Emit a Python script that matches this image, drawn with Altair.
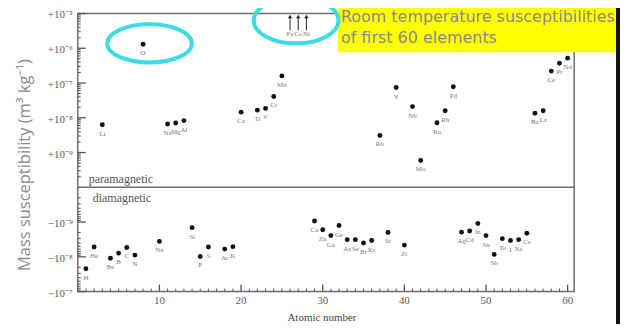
import math
import altair as alt
import pandas as pd

# ---------------- data ----------------
para_sym = ["Li", "O", "Na", "Mg", "Al", "Ca", "Ti", "V", "Cr", "Mn", "Rb", "Y", "Nb", "Mo",
            "Ru", "Rh", "Pd", "Ba", "La", "Ce", "Pr", "Nd"]
para_z = [3, 8, 11, 12, 13, 20, 22, 23, 24, 25, 37, 39, 41, 42, 44, 45, 46, 56, 57, 58, 59, 60]
para_chi = [6.3e-9, 1.3e-6, 6.6e-9, 7.1e-9, 8.3e-9, 1.45e-8, 1.66e-8, 1.86e-8, 4.1e-8, 1.6e-7,
            3.1e-9, 7.4e-8, 2.1e-8, 5.9e-10, 7.2e-9, 1.6e-8, 7.8e-8, 1.35e-8, 1.6e-8, 2.2e-7,
            3.7e-7, 5.2e-7]

dia_sym = ["H", "He", "Be", "B", "C", "N", "Ne", "Si", "P", "S", "Ar", "K", "Cu", "Zn", "Ga",
           "Ge", "As", "Se", "Br", "Kr", "Sr", "Zr", "Ag", "Cd", "In", "Sn", "Sb", "Te", "I",
           "Xe", "Cs"]
dia_z = [1, 2, 4, 5, 6, 7, 10, 14, 15, 16, 18, 19, 29, 30, 31, 32, 33, 34, 35, 36, 38, 40, 47,
         48, 49, 50, 51, 52, 53, 54, 55]
dia_chi = [-2.2e-8, -5.2e-9, -1.1e-8, -7.8e-9, -5.4e-9, -8.9e-9, -3.6e-9, -1.45e-9, -9.8e-9,
           -5.2e-9, -6.0e-9, -5.1e-9, -9.3e-10, -1.66e-9, -2.45e-9, -1.26e-9, -3.2e-9, -3.2e-9,
           -4.0e-9, -3.4e-9, -2.0e-9, -4.6e-9, -1.95e-9, -1.8e-9, -1.1e-9, -2.45e-9, -8.5e-9,
           -3.0e-9, -3.4e-9, -3.2e-9, -2.1e-9]

ferro_sym = ["Fe", "Co", "Ni"]
ferro_z = [26, 27, 28]

x_ticks = [10, 20, 30, 40, 50, 60]
y_tick_pos = [-3, -2, -1, 1, 2, 3, 4, 5]
y_tick_labels = ["\u221210\u207b\u2077", "\u221210\u207b\u2078", "\u221210\u207b\u2079",
                 "+10\u207b\u2079", "+10\u207b\u2078", "+10\u207b\u2077", "+10\u207b\u2076",
                 "+10\u207b\u2075"]

title_lines = ["Room temperature susceptibilities", "of first 60 elements"]
x_title = "Atomic number"
y_title = "Mass susceptibility (m\u00b3 kg\u207b\u00b9)"

# ---------------- tables ----------------
pts = pd.DataFrame({
    "z": para_z + dia_z,
    "sym": para_sym + dia_sym,
    "chi": para_chi + dia_chi,
})
ferro = pd.DataFrame({"z": ferro_z, "sym": ferro_sym})

minor_y = []
for n in range(0, 5):
    for k in range(2, 10):
        minor_y.append(n + math.log10(k))
for n in range(0, 3):
    for k in range(2, 10):
        minor_y.append(-(n + math.log10(k)))
minor_y_df = pd.DataFrame({"p": minor_y})
major_y_df = pd.DataFrame({"p": y_tick_pos, "lab": y_tick_labels})
minor_x_df = pd.DataFrame({"z": [v for v in range(1, 61) if v % 10 != 0]})
major_x_df = pd.DataFrame({"z": x_ticks, "lab": [str(v) for v in x_ticks]})

W, H = 498, 279
SERIF = "Liberation Serif"
GRAY = "#5a5a5a"

xs = alt.Scale(domain=[0, 60.8], nice=False, zero=False)
ys = alt.Scale(domain=[-3, 5], nice=False, zero=False)

X = alt.X("z:Q", scale=xs, axis=None)
Y = alt.Y("p:Q", scale=ys, axis=None)

pos_calc = "(datum.chi > 0 ? 1 : -1) * (log(abs(datum.chi)) / LN10 + 10)"
base_pts = alt.Chart(pts).transform_calculate(p=pos_calc)

dots = base_pts.mark_circle(size=24, color="#111111", opacity=1).encode(x=X, y=Y)

labels = base_pts.mark_text(font=SERIF, fontSize=7, color="#777777", dy=9).encode(
    x=X, y=Y, text="sym:N")

one = pd.DataFrame({"a": [0]})

frame = alt.Chart(one).mark_rect(
    fill="transparent", stroke="#6e6e6e", strokeWidth=1.5
).encode(x=alt.value(0), x2=alt.value(W), y=alt.value(0), y2=alt.value(H))

divider = alt.Chart(pd.DataFrame({"p": [0]})).mark_rule(color="#6e6e6e", strokeWidth=1.5).encode(
    y=Y, x=alt.value(0), x2=alt.value(W))

ymin = alt.Chart(minor_y_df).mark_rule(color="#555555", strokeWidth=1).encode(
    y=Y, x=alt.value(0), x2=alt.value(3))
ymaj = alt.Chart(major_y_df).mark_rule(color="#555555", strokeWidth=1.3).encode(
    y=Y, x=alt.value(0), x2=alt.value(8))
ylab = alt.Chart(major_y_df).mark_text(
    font=SERIF, fontSize=11, color=GRAY, align="right", baseline="middle", dy=2
).encode(y=Y, x=alt.value(-5), text="lab:N")

xmin = alt.Chart(minor_x_df).mark_rule(color="#555555", strokeWidth=1).encode(
    x=X, y=alt.value(H), y2=alt.value(H - 3))
xmaj = alt.Chart(major_x_df).mark_rule(color="#555555", strokeWidth=1.3).encode(
    x=X, y=alt.value(H), y2=alt.value(H - 7))
xlab = alt.Chart(major_x_df).mark_text(
    font=SERIF, fontSize=11, color=GRAY, baseline="middle"
).encode(x=X, y=alt.value(H + 9), text="lab:N")

xttl = alt.Chart(pd.DataFrame({"t": [x_title]})).mark_text(
    font=SERIF, fontSize=11, color="#444444", baseline="alphabetic"
).encode(text="t:N", x=alt.value(245), y=alt.value(H + 29))

para_txt = alt.Chart(pd.DataFrame({"t": ["paramagnetic"]})).mark_text(
    font=SERIF, fontSize=12, color="#555555", align="left", baseline="middle"
).encode(text="t:N", x=alt.value(11), y=alt.value(166))
dia_txt = alt.Chart(pd.DataFrame({"t": ["diamagnetic"]})).mark_text(
    font=SERIF, fontSize=12, color="#555555", align="left", baseline="middle"
).encode(text="t:N", x=alt.value(15), y=alt.value(185))

arrows = alt.Chart(ferro).mark_rule(color="#222222", strokeWidth=1).encode(
    x=X, y=alt.value(17), y2=alt.value(3))
heads = alt.Chart(ferro).mark_point(shape="triangle-up", size=18, filled=True,
                                    color="#222222", opacity=1).encode(x=X, y=alt.value(3))
ferro_lbl = alt.Chart(ferro).mark_text(font=SERIF, fontSize=7, color="#777777").encode(
    x=X, y=alt.value(21), text="sym:N")

ellipse1 = "M -1 0 A 1 0.45 0 1 0 1 0 A 1 0.45 0 1 0 -1 0 Z"
ellipse2 = "M -1 0 A 1 0.54 0 1 0 1 0 A 1 0.54 0 1 0 -1 0 Z"
ell1 = alt.Chart(one).mark_point(
    shape=ellipse1, size=85 * 85, filled=False, stroke="#3ddbe3", strokeWidth=4, opacity=1
).encode(x=alt.value(72), y=alt.value(30))
ell2 = alt.Chart(one).mark_point(
    shape=ellipse2, size=85 * 85, filled=False, stroke="#3ddbe3", strokeWidth=4, opacity=1
).encode(x=alt.value(219), y=alt.value(7))

ybox = alt.Chart(one).mark_rect(color="#ffff00").encode(
    x=alt.value(261), x2=alt.value(540), y=alt.value(-6), y2=alt.value(39))
ytxt = alt.Chart(pd.DataFrame({"t": title_lines, "yy": [9, 30]})).mark_text(
    font="DejaVu Sans", fontSize=16, color="#8a8a8a", align="left", baseline="alphabetic"
).encode(text="t:N", x=alt.value(264), y=alt.Y("yy:Q", scale=None, axis=None))

bar = alt.Chart(one).mark_rect(color="#111111").encode(
    x=alt.value(540), x2=alt.value(544), y=alt.value(-6), y2=alt.value(320))

ytitle = alt.Chart(pd.DataFrame({"t": [y_title]})).mark_text(
    font="Open Sans", fontSize=16.5, color="#8a8a8a", angle=270, baseline="middle",
    align="center"
).encode(text="t:N", x=alt.value(-53), y=alt.value(152))

chart = alt.layer(
    frame, divider, ymin, ymaj, ylab, xmin, xmaj, xlab, xttl, dots, labels, para_txt, dia_txt,
    arrows, heads, ferro_lbl, ell1, ybox, ytxt, ell2, bar, ytitle
).properties(
    width=W, height=H, autosize="none",
    padding={"left": 70, "top": 5, "right": 52, "bottom": 32},
    background="white",
).configure_view(strokeWidth=0)

chart.save("out.html", embed_options={"renderer": "svg", "actions": False})
